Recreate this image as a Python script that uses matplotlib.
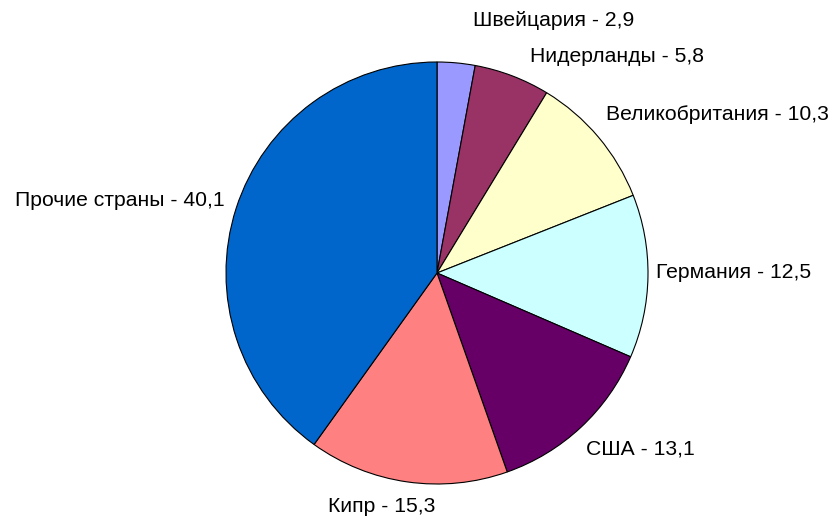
import matplotlib
matplotlib.use("Agg")
import matplotlib.pyplot as plt

countries = ["Швейцария", "Нидерланды", "Великобритания", "Германия", "США", "Кипр", "Прочие страны"]
shares = [2.9, 5.8, 10.3, 12.5, 13.1, 15.3, 40.1]
colors = ["#9999FF", "#993366", "#FFFFCC", "#CCFFFF", "#660066", "#FF8080", "#0066CC"]

# label anchors in pixel space (x, y from top, horizontal alignment)
label_pos = [
    (473, 20, "left"),
    (530, 57, "left"),
    (606, 114, "left"),
    (656, 272, "left"),
    (586, 449, "left"),
    (328, 507, "left"),
    (225, 200, "right"),
]

W, H = 832, 523
fig = plt.figure(figsize=(W / 100, H / 100), dpi=100)
ax = fig.add_axes([0, 0, 1, 1])
ax.set_aspect("equal")
ax.axis("off")

ax.pie(shares, colors=colors, startangle=90, counterclock=False,
       center=(437, H - 273), radius=211,
       wedgeprops=dict(edgecolor="black", linewidth=0.8))
ax.set_xlim(0, W)
ax.set_ylim(0, H)

for name, val, (x, y, ha) in zip(countries, shares, label_pos):
    txt = f"{name} - {val:.1f}".replace(".", ",")
    ax.text(x, H - y, txt, ha=ha, va="center", fontsize=15.2,
            family=["Liberation Sans", "DejaVu Sans"], color="black")

fig.savefig("out.png", dpi=100)
